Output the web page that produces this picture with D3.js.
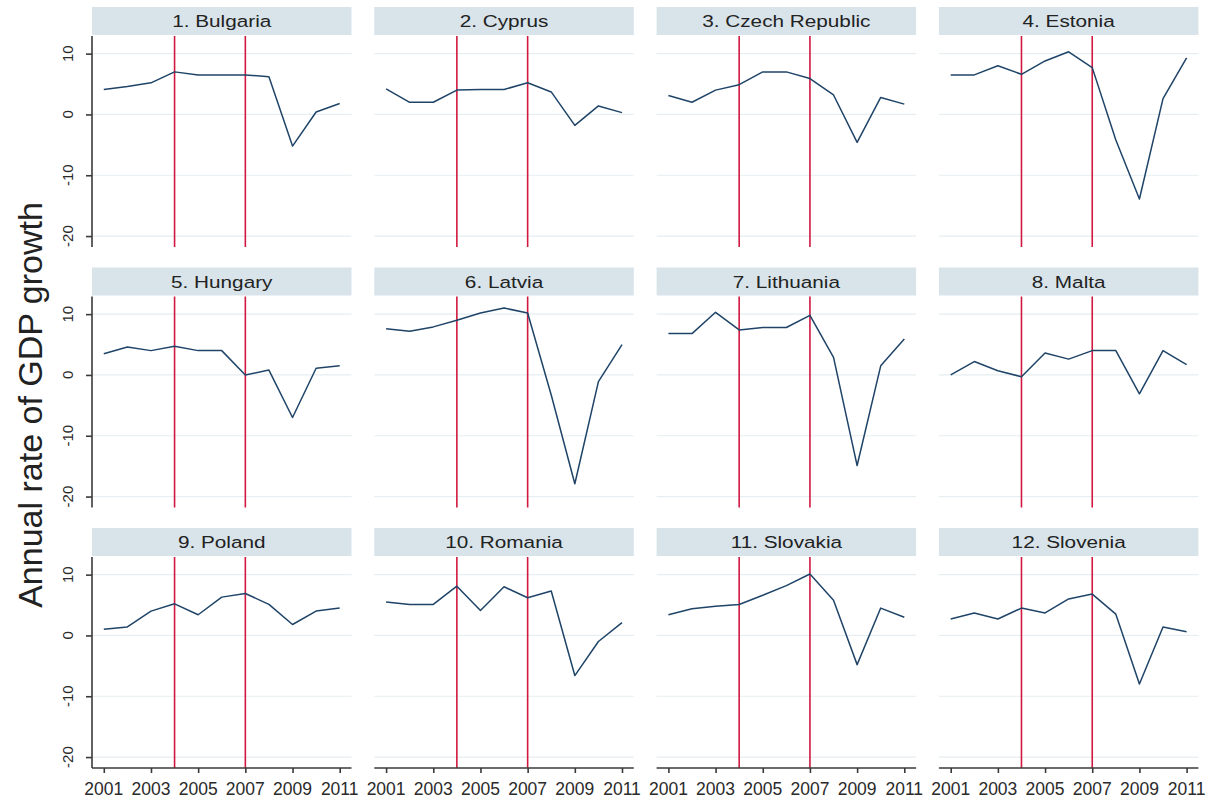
<!DOCTYPE html>
<html>
<head>
<meta charset="utf-8">
<script src="https://cdn.jsdelivr.net/npm/d3@7"></script>
<style>
  body { margin: 0; background: #fff; }
  svg { font-family: "Liberation Sans", Arial, sans-serif; }
  .grid line { stroke: #e6eef1; stroke-width: 1.2; }
  .strip { fill: #d8e4ea; }
  .strip-label { font-size: 17px; fill: #222; }
  .tick-label { font-size: 15px; fill: #2a2a2a; }
  .x-label { font-size: 17.5px; fill: #2a2a2a; }
  .series { fill: none; stroke: #1f4468; stroke-width: 1.5; stroke-linejoin: round; }
  .event { stroke: #d01840; stroke-width: 1.6; }
  .axis-line { stroke: #3a3a3a; stroke-width: 1.6; }
</style>
</head>
<body>
<svg width="1210" height="801"></svg>
<script>
  // GDP growth, annual %
  const years = [2001, 2002, 2003, 2004, 2005, 2006, 2007, 2008, 2009, 2010, 2011];
  const countries = ["1. Bulgaria", "2. Cyprus", "3. Czech Republic", "4. Estonia",
    "5. Hungary", "6. Latvia", "7. Lithuania", "8. Malta",
    "9. Poland", "10. Romania", "11. Slovakia", "12. Slovenia"];

  const bulgaria = [4.1, 4.6, 5.2, 7.0, 6.5, 6.5, 6.5, 6.2, -5.2, 0.4, 1.8];
  const cyprus = [4.2, 2.0, 2.0, 4.0, 4.1, 4.1, 5.2, 3.7, -1.8, 1.4, 0.3];
  const czech = [3.1, 2.0, 4.0, 4.9, 7.0, 7.0, 5.9, 3.2, -4.6, 2.8, 1.7];
  const estonia = [6.5, 6.5, 8.0, 6.6, 8.8, 10.3, 7.7, -4.2, -13.9, 2.6, 9.3];
  const hungary = [3.5, 4.6, 4.0, 4.7, 4.0, 4.0, 0.0, 0.8, -7.0, 1.1, 1.5];
  const latvia = [7.6, 7.2, 7.9, 9.0, 10.2, 11.0, 10.2, -3.3, -17.9, -1.1, 5.0];
  const lithuania = [6.8, 6.8, 10.3, 7.4, 7.8, 7.8, 9.8, 2.9, -14.9, 1.5, 5.9];
  const malta = [0.0, 2.2, 0.7, -0.3, 3.6, 2.6, 4.0, 4.0, -3.1, 4.0, 1.7];
  const poland = [1.0, 1.4, 4.0, 5.2, 3.4, 6.3, 6.9, 5.1, 1.8, 4.0, 4.5];
  const romania = [5.5, 5.1, 5.1, 8.1, 4.1, 8.0, 6.2, 7.3, -6.6, -1.0, 2.1];
  const slovakia = [3.4, 4.4, 4.8, 5.1, 6.6, 8.2, 10.1, 5.8, -4.8, 4.5, 3.0];
  const slovenia = [2.7, 3.7, 2.7, 4.5, 3.7, 6.0, 6.8, 3.5, -8.0, 1.4, 0.6];

  const series = [bulgaria, cyprus, czech, estonia, hungary, latvia,
    lithuania, malta, poland, romania, slovakia, slovenia];

  const eventYears = [2004, 2007];
  const yTicks = [10, 0, -10, -20];
  const xTicks = [2001, 2003, 2005, 2007, 2009, 2011];
  const yTitle = "Annual rate of GDP growth";

  const svg = d3.select("svg");

  const nCols = 4;
  const panelLeft = 92;
  const colStep = 282.3;
  const panelWidth = 259.5;
  const rowTop = 7;
  const rowStep = 260.5;
  const stripHeight = 28;
  const plotHeight = 211;

  const xScale = d3.scaleLinear()
    .domain([2000.5, 2011.5])
    .range([0, panelWidth]);

  const yScale = d3.scaleLinear()
    .domain([-21.8, 12.9])
    .range([plotHeight, 0]);

  const lineGen = d3.line()
    .x((d, i) => xScale(years[i]))
    .y((d) => yScale(d));

  const nRows = Math.ceil(countries.length / nCols);

  countries.forEach((name, k) => {
    const col = k % nCols;
    const row = Math.floor(k / nCols);
    const x0 = panelLeft + col * colStep;
    const y0 = rowTop + row * rowStep;

    const panel = svg.append("g")
      .attr("transform", `translate(${x0},${y0})`);

    // strip header
    panel.append("rect")
      .attr("class", "strip")
      .attr("width", panelWidth)
      .attr("height", stripHeight);

    panel.append("text")
      .attr("class", "strip-label")
      .attr("text-anchor", "middle")
      .attr("transform", `translate(${panelWidth / 2},${stripHeight / 2 + 6}) scale(1.22,1)`)
      .text(name);

    const g = panel.append("g")
      .attr("transform", `translate(0,${stripHeight + 1})`);

    // horizontal grid
    const gridG = g.append("g").attr("class", "grid");
    gridG.selectAll("line")
      .data(yTicks)
      .join("line")
      .attr("x1", 0)
      .attr("x2", panelWidth)
      .attr("y1", (d) => yScale(d))
      .attr("y2", (d) => yScale(d));

    // accession / event lines
    g.selectAll(".event")
      .data(eventYears)
      .join("line")
      .attr("class", "event")
      .attr("x1", (d) => xScale(d))
      .attr("x2", (d) => xScale(d))
      .attr("y1", 0)
      .attr("y2", plotHeight);

    g.append("path")
      .attr("class", "series")
      .attr("d", lineGen(series[k]));

    // y axis on first column
    if (col === 0) {
      const yAxis = d3.axisLeft(yScale).tickValues(yTicks).tickSize(6).tickFormat("");
      const yAxisG = g.append("g").call(yAxis);
      yAxisG.select(".domain")
        .attr("d", `M0,0V${plotHeight}`)
        .attr("class", "axis-line")
        .attr("fill", "none");
      yAxisG.selectAll(".tick line").attr("stroke", "#3a3a3a").attr("stroke-width", 1.6);

      g.selectAll(".y-label")
        .data(yTicks)
        .join("text")
        .attr("class", "tick-label")
        .attr("text-anchor", "middle")
        .attr("transform", (d) => `translate(-19,${yScale(d)}) rotate(-90)`)
        .text((d) => d);
    }

    // x axis on bottom row
    if (row === nRows - 1) {
      const xAxis = d3.axisBottom(xScale).tickValues(xTicks).tickSize(5).tickFormat("");
      const xAxisG = g.append("g")
        .attr("transform", `translate(0,${plotHeight})`)
        .call(xAxis);
      xAxisG.select(".domain")
        .attr("d", `M0,0H${panelWidth}`)
        .attr("class", "axis-line")
        .attr("fill", "none");
      xAxisG.selectAll(".tick line").attr("stroke", "#3a3a3a").attr("stroke-width", 1.6);

      g.selectAll(".x-label")
        .data(xTicks)
        .join("text")
        .attr("class", "x-label")
        .attr("text-anchor", "middle")
        .attr("x", (d) => xScale(d))
        .attr("y", plotHeight + 27)
        .text((d) => d);
    }
  });

  svg.append("text")
    .attr("text-anchor", "middle")
    .attr("transform", `translate(42,405) rotate(-90)`)
    .attr("font-size", 34)
    .attr("fill", "#222")
    .text(yTitle);
</script>
</body>
</html>
